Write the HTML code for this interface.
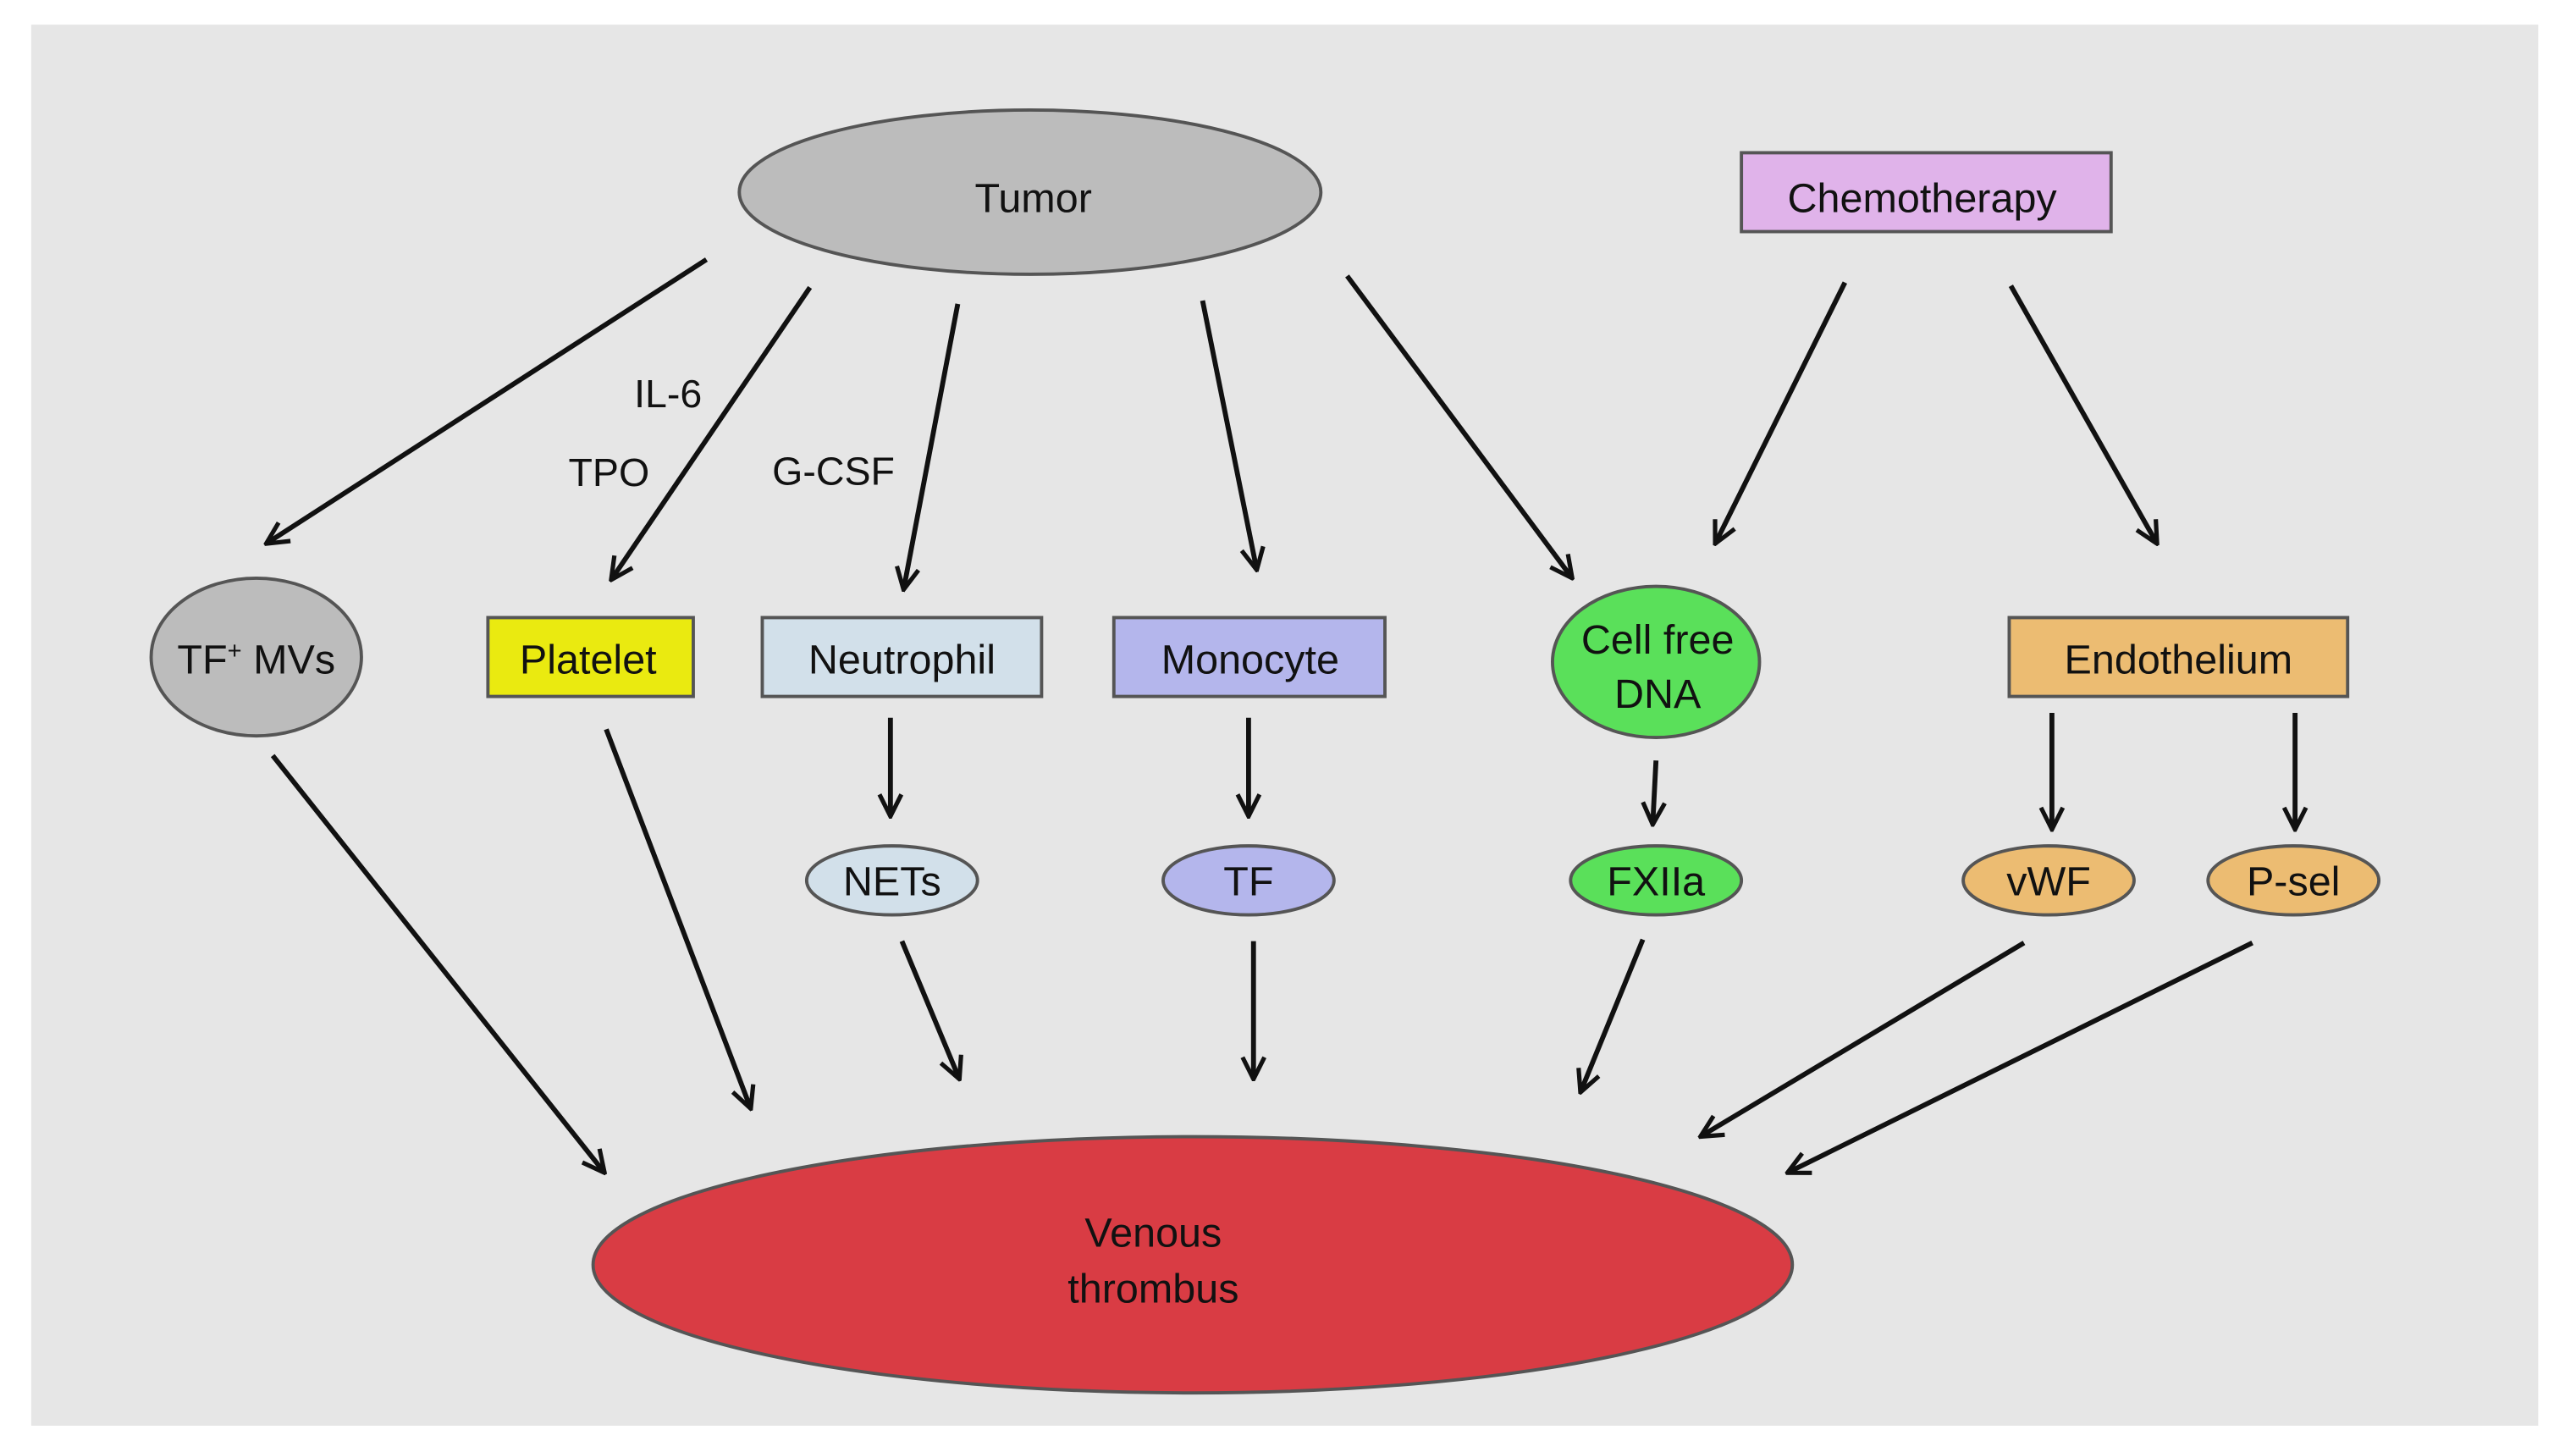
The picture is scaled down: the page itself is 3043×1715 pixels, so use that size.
<!DOCTYPE html>
<html><head><meta charset="utf-8"><style>
html,body{margin:0;padding:0;background:#fff;}
svg{display:block;}
text{font-family:"Liberation Sans",sans-serif;fill:#111;}
</style></head><body>
<svg width="3043" height="1715" viewBox="0 0 1568 884" preserveAspectRatio="none" xmlns="http://www.w3.org/2000/svg">
<defs>
<marker id="a" viewBox="0 0 10 10" refX="9" refY="5" markerWidth="7" markerHeight="7" orient="auto" markerUnits="userSpaceOnUse">
<path d="M0,0 L10,5 L0,10" fill="none" stroke="#111" stroke-width="2.2"/>
</marker>
<marker id="b" viewBox="0 0 12 12" refX="11" refY="6" markerWidth="16" markerHeight="16" orient="auto" markerUnits="userSpaceOnUse">
<path d="M1,1 L11,6 L1,11" fill="none" stroke="#111" stroke-width="2"/>
</marker>
</defs>
<rect x="19" y="15" width="1526" height="853" fill="#e6e6e6"/>
<g stroke="#111" stroke-width="3" fill="none" marker-end="url(#b)">
<line x1="430" y1="158" x2="162" y2="331"/>
<line x1="493" y1="175" x2="372" y2="353"/>
<line x1="583" y1="185" x2="550" y2="359"/>
<line x1="732" y1="183" x2="765" y2="347"/>
<line x1="820" y1="168" x2="957" y2="352"/>
<line x1="1123" y1="172" x2="1044" y2="331"/>
<line x1="1224" y1="174" x2="1313" y2="331"/>
<line x1="542" y1="437" x2="542" y2="497"/>
<line x1="760" y1="437" x2="760" y2="497"/>
<line x1="1008" y1="463" x2="1006" y2="502"/>
<line x1="1249" y1="434" x2="1249" y2="505"/>
<line x1="1397" y1="434" x2="1397" y2="505"/>
<line x1="166" y1="460" x2="368" y2="714"/>
<line x1="369" y1="444" x2="457" y2="675"/>
<line x1="549" y1="573" x2="584" y2="657"/>
<line x1="763" y1="573" x2="763" y2="657"/>
<line x1="1000" y1="572" x2="962" y2="665"/>
<line x1="1232" y1="574" x2="1035" y2="692"/>
<line x1="1371" y1="574" x2="1088" y2="714"/>
</g>
<ellipse cx="627" cy="117" rx="177" ry="50" fill="#bcbcbc" stroke="#555" stroke-width="2"/>
<text x="629" y="129" font-size="25" text-anchor="middle">Tumor</text>
<rect x="1060" y="93" width="225" height="48" fill="#e0b3ea" stroke="#555" stroke-width="2"/>
<text x="1170" y="129" font-size="25" text-anchor="middle">Chemotherapy</text>
<text x="386" y="248" font-size="24">IL-6</text>
<text x="346" y="296" font-size="24">TPO</text>
<text x="470" y="295" font-size="24">G-CSF</text>
<ellipse cx="156" cy="400" rx="64" ry="48" fill="#bcbcbc" stroke="#555" stroke-width="2"/>
<text x="156" y="410" font-size="25" text-anchor="middle">TF<tspan font-size="15" dy="-9">+</tspan><tspan dy="9"> MVs</tspan></text>
<rect x="297" y="376" width="125" height="48" fill="#eaea10" stroke="#555" stroke-width="2"/>
<text x="358" y="410" font-size="25" text-anchor="middle">Platelet</text>
<rect x="464" y="376" width="170" height="48" fill="#d2e0ea" stroke="#555" stroke-width="2"/>
<text x="549" y="410" font-size="25" text-anchor="middle">Neutrophil</text>
<rect x="678" y="376" width="165" height="48" fill="#b4b6ec" stroke="#555" stroke-width="2"/>
<text x="761" y="410" font-size="25" text-anchor="middle">Monocyte</text>
<ellipse cx="1008" cy="403" rx="63" ry="46" fill="#5ae05a" stroke="#555" stroke-width="2"/>
<text x="1009" y="398" font-size="25" text-anchor="middle">Cell free</text>
<text x="1009" y="431" font-size="25" text-anchor="middle">DNA</text>
<rect x="1223" y="376" width="206" height="48" fill="#ecbc72" stroke="#555" stroke-width="2"/>
<text x="1326" y="410" font-size="25" text-anchor="middle">Endothelium</text>
<ellipse cx="543" cy="536" rx="52" ry="21" fill="#d2e0ea" stroke="#555" stroke-width="2"/>
<text x="543" y="545" font-size="25" text-anchor="middle">NETs</text>
<ellipse cx="760" cy="536" rx="52" ry="21" fill="#b4b6ec" stroke="#555" stroke-width="2"/>
<text x="760" y="545" font-size="25" text-anchor="middle">TF</text>
<ellipse cx="1008" cy="536" rx="52" ry="21" fill="#5ae05a" stroke="#555" stroke-width="2"/>
<text x="1008" y="545" font-size="25" text-anchor="middle">FXIIa</text>
<ellipse cx="1247" cy="536" rx="52" ry="21" fill="#ecbc72" stroke="#555" stroke-width="2"/>
<text x="1247" y="545" font-size="25" text-anchor="middle">vWF</text>
<ellipse cx="1396" cy="536" rx="52" ry="21" fill="#ecbc72" stroke="#555" stroke-width="2"/>
<text x="1396" y="545" font-size="25" text-anchor="middle">P-sel</text>
<ellipse cx="726" cy="770" rx="365" ry="78" fill="#d93c44" stroke="#555" stroke-width="2"/>
<text x="702" y="759" font-size="25" text-anchor="middle">Venous</text>
<text x="702" y="793" font-size="25" text-anchor="middle">thrombus</text>
</svg>
</body></html>
